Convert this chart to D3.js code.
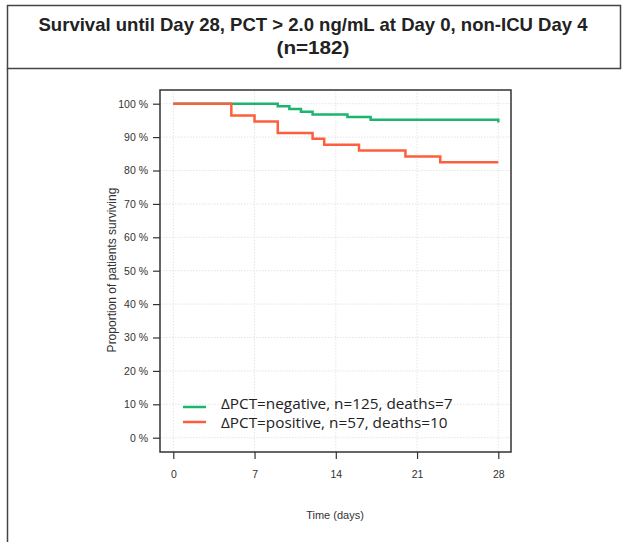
<!DOCTYPE html>
<html>
<head>
<meta charset="utf-8">
<script src="https://cdn.jsdelivr.net/npm/d3@7"></script>
<style>
  body { margin: 0; background: #fff; }
  svg { display: block; }
</style>
</head>
<body>
<svg id="chart"></svg>
<script>
// survival curves, step points [day, proportion %]
const negDays = [0, 9, 10, 11, 12, 15, 17, 28];
const negSurv = [100, 99.2, 98.4, 97.6, 96.8, 96.0, 95.2, 94.4];
const posDays = [0, 5, 7, 9, 12, 13, 16, 20, 23];
const posSurv = [100, 96.5, 94.7, 91.2, 89.5, 87.7, 86.0, 84.2, 82.5];
const posEnd = 28;
const xTicks = [0, 7, 14, 21, 28];
const yTicks = [0, 10, 20, 30, 40, 50, 60, 70, 80, 90, 100];
const legendLabels = ['ΔPCT=negative, n=125, deaths=7', 'ΔPCT=positive, n=57, deaths=10'];
const titleLines = ['Survival until Day 28, PCT > 2.0 ng/mL at Day 0, non-ICU Day 4', '(n=182)'];

const width = 623;
const height = 542;
const green = '#1cb46f';
const red = '#fd5f3e';

const svg = d3.select('#chart')
    .attr('width', width)
    .attr('height', height);

// frame
svg.append('rect')
    .attr('x', 7.5).attr('y', 5.5)
    .attr('width', 613).attr('height', 63)
    .attr('fill', 'none')
    .attr('stroke', '#444')
    .attr('stroke-width', 1.5);
svg.append('line')
    .attr('x1', 7.5).attr('x2', 7.5)
    .attr('y1', 68).attr('y2', height)
    .attr('stroke', '#444')
    .attr('stroke-width', 1.5);

// narrow bold title: squeeze to the reference width
const titleWidths = [549, 73];
svg.selectAll('.title')
    .data(titleLines)
    .enter().append('text')
    .attr('class', 'title')
    .attr('x', 313)
    .attr('y', (d, i) => 31 + i * 23)
    .attr('text-anchor', 'middle')
    .attr('font-family', '"Liberation Sans", Arial, sans-serif')
    .attr('font-weight', 'bold')
    .attr('font-size', 19)
    .attr('textLength', (d, i) => titleWidths[i])
    .attr('lengthAdjust', 'spacingAndGlyphs')
    .attr('fill', '#222')
    .text(d => d);

const x = d3.scaleLinear().domain([0, 28]).range([173.3, 498.3]);
const y = d3.scaleLinear().domain([0, 100]).range([437.7, 103.7]);

const box = { x0: 160, x1: 511, y0: 90, y1: 452 };

// grid
svg.append('g')
    .selectAll('line')
    .data(yTicks)
    .enter().append('line')
    .attr('x1', box.x0).attr('x2', box.x1)
    .attr('y1', d => y(d)).attr('y2', d => y(d))
    .attr('stroke', '#e4e4e4')
    .attr('stroke-dasharray', '1.5,1.5');
svg.append('g')
    .selectAll('line')
    .data(xTicks)
    .enter().append('line')
    .attr('x1', d => x(d)).attr('x2', d => x(d))
    .attr('y1', box.y0).attr('y2', box.y1)
    .attr('stroke', '#e4e4e4')
    .attr('stroke-dasharray', '1.5,1.5');

svg.append('rect')
    .attr('x', box.x0).attr('y', box.y0)
    .attr('width', box.x1 - box.x0).attr('height', box.y1 - box.y0)
    .attr('fill', 'none')
    .attr('stroke', '#333')
    .attr('stroke-width', 1.5);

// axes
const yAxis = svg.append('g')
    .attr('transform', `translate(${box.x0},0)`)
    .call(d3.axisLeft(y).tickValues(yTicks).tickSize(7).tickPadding(5).tickFormat(d => d + ' %'));
const xAxis = svg.append('g')
    .attr('transform', `translate(0,${box.y1})`)
    .call(d3.axisBottom(x).tickValues(xTicks).tickSize(7).tickPadding(12));
[xAxis, yAxis].forEach(a => {
    a.select('.domain').remove();
    a.selectAll('line').attr('stroke', '#333').attr('stroke-width', 1.2);
    a.selectAll('text')
        .attr('font-family', '"Liberation Sans", Arial, sans-serif')
        .attr('font-size', 10.5)
        .attr('fill', '#333');
});

// curves
const line = d3.line()
    .x(d => x(d[0]))
    .y(d => y(d[1]))
    .curve(d3.curveStepAfter);

// green: last value is a drop right at day 28
const negPts = negDays.slice(0, -1).map((d, i) => [d, negSurv[i]]);
negPts.push([28, negSurv[negSurv.length - 2]]);
const posPts = posDays.map((d, i) => [d, posSurv[i]]);
posPts.push([posEnd, posSurv[posSurv.length - 1]]);

svg.append('path')
    .attr('d', line(negPts) + `L${x(28)},${y(negSurv[negSurv.length - 1])}`)
    .attr('fill', 'none')
    .attr('stroke', green)
    .attr('stroke-width', 2.5);
svg.append('path')
    .attr('d', line(posPts))
    .attr('fill', 'none')
    .attr('stroke', red)
    .attr('stroke-width', 2.5);

// legend
const legend = svg.append('g');
legendLabels.forEach((label, i) => {
    legend.append('line')
        .attr('x1', 183).attr('x2', 206)
        .attr('y1', 407 + i * 15).attr('y2', 407 + i * 15)
        .attr('stroke', i === 0 ? green : red)
        .attr('stroke-width', 2.5);
    legend.append('text')
        .attr('x', 221).attr('y', 409 + i * 19)
        .attr('font-family', '"Open Sans", "DejaVu Sans", sans-serif')
        .attr('font-size', 15.3)
        .attr('fill', '#222')
        .text(label);
});

// axis titles
svg.append('text')
    .attr('x', 335).attr('y', 519)
    .attr('text-anchor', 'middle')
    .attr('font-family', '"Liberation Sans", Arial, sans-serif')
    .attr('font-size', 11)
    .attr('fill', '#333')
    .text('Time (days)');
svg.append('text')
    .attr('transform', 'translate(116,270) rotate(-90)')
    .attr('text-anchor', 'middle')
    .attr('font-family', '"Liberation Sans", Arial, sans-serif')
    .attr('font-size', 12)
    .attr('fill', '#333')
    .text('Proportion of patients surviving');
</script>
</body>
</html>
